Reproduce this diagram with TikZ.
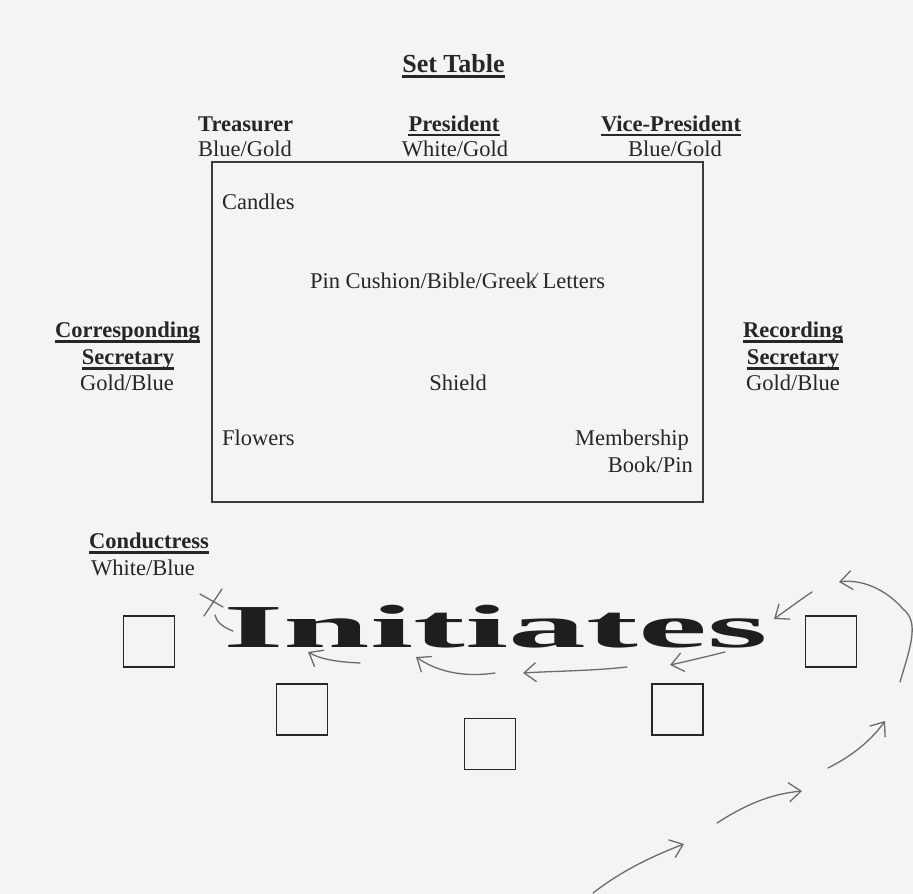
\documentclass[tikz,border=0pt]{standalone}
\usepackage{fontspec}
\setmainfont{Liberation Serif}
\usetikzlibrary{arrows.meta}
\definecolor{ink}{HTML}{262626}
\definecolor{inkdark}{HTML}{1E1E1E}
\definecolor{pencil}{HTML}{6C6C6C}
\definecolor{paper}{HTML}{F4F4F4}
\tikzset{
  lbl/.style={inner sep=0, text=ink, font=\fontsize{22.5}{26}\selectfont},
  ttl/.style={inner sep=0, text=ink, font=\fontsize{22.5}{26}\selectfont\bfseries},
  ttlbig/.style={inner sep=0, text=ink, font=\fontsize{26}{30}\selectfont\bfseries},
  ulst/.style={draw=ink, line width=2.2pt},
  seat/.style={draw=ink, line width=1.8pt, minimum size=51pt, inner sep=0},
  tablebox/.style={draw=ink!90, line width=1.5pt, inner sep=0},
  pencilarrow/.style={draw=pencil, line width=1.3pt, line cap=round,
    -{Straight Barb[length=12pt,width=19pt]}},
  pencilline/.style={draw=pencil, line width=1.3pt, line cap=round},
}
\newcommand{\ulnode}[2][4.5pt]{\draw[ulst] ([yshift=-#1]#2.base west) -- ([yshift=-#1]#2.base east);}
\begin{document}
\begin{tikzpicture}[x=1pt,y=-1pt]
\fill[paper] (0,0) rectangle (913,894);
\useasboundingbox (0,0) rectangle (913,894);

% title
\node[ttlbig, anchor=base] (settable) at (453.5,72) {Set Table};
\ulnode{settable}

% officers at top
\node[ttl, anchor=base west] (treas) at (198,131) {Treasurer};
\node[lbl, anchor=base west] (treasc) at (198,156) {Blue/Gold};
\node[ttl, anchor=base] (pres) at (454,131) {President};
\ulnode[4pt]{pres}
\node[lbl, anchor=base] (presc) at (455,156) {White/Gold};
\node[ttl, anchor=base] (vp) at (671,131) {Vice-President};
\ulnode[4pt]{vp}
\node[lbl, anchor=base] (vpc) at (675,156) {Blue/Gold};

% table
\node[tablebox, minimum width=491pt, minimum height=340pt] (table) at (457.5,332) {};
\node[lbl, anchor=base west] (candles) at (222,209) {Candles};
\node[lbl, anchor=base] (pin) at (457.5,288) {Pin Cushion/Bible/Greek Letters};
\node[lbl, anchor=base] (shield) at (458,390) {Shield};
\node[lbl, anchor=base west] (flowers) at (222,445) {Flowers};
\node[lbl, anchor=base east] (member) at (689,445) {Membership};
\node[lbl, anchor=base east] (book) at (693,472) {Book/Pin};

% side officers
\node[ttl, anchor=base] (cs1) at (127.5,337) {Corresponding};
\ulnode{cs1}
\node[ttl, anchor=base] (cs2) at (128,364) {Secretary};
\ulnode{cs2}
\node[lbl, anchor=base] (cs3) at (127,390) {Gold/Blue};

\node[ttl, anchor=base] (rs1) at (793,337) {Recording};
\ulnode{rs1}
\node[ttl, anchor=base] (rs2) at (793,364) {Secretary};
\ulnode{rs2}
\node[lbl, anchor=base] (rs3) at (793,390) {Gold/Blue};

\node[ttl, anchor=base west] (cond) at (89,548) {Conductress};
\ulnode{cond}
\node[lbl, anchor=base west] (condc) at (91,575) {White/Blue};

% Initiates
\node[inner sep=0, anchor=base west, text=inkdark] (init) at (223,647)
  {\scalebox{2.55}[1]{\fontsize{61}{64}\selectfont\bfseries Initiates}};

% seats
\node[seat] (s1) at (149,641.5) {};
\node[seat] (s2) at (302,709.5) {};
\node[seat] (s3) at (490,744) {};
\node[seat] (s4) at (677.5,709.5) {};
\node[seat] (s5) at (831,641.5) {};

% pencil path coordinates
\coordinate (a1t) at (593,893);  \coordinate (a1h) at (684,844);
\coordinate (a2t) at (717,823);  \coordinate (a2h) at (802,791);
\coordinate (a3t) at (828,768);  \coordinate (a3h) at (885,721);
\coordinate (a4t) at (900,682);  \coordinate (a4m) at (903,609); \coordinate (a4h) at (839,582);
\coordinate (a5t) at (812,592);  \coordinate (a5h) at (774,619);
\coordinate (a6t) at (725,652);  \coordinate (a6h) at (670,665);
\coordinate (a7t) at (627,667);  \coordinate (a7h) at (523,673);
\coordinate (a8t) at (495,673);  \coordinate (a8h) at (416,657);
\coordinate (a9t) at (360,663);  \coordinate (a9h) at (308,652);
\coordinate (a10t) at (233,631); \coordinate (a10h) at (215,615);
\coordinate (xa) at (200,594); \coordinate (xb) at (223,607);
\coordinate (xc) at (222,589); \coordinate (xd) at (204,616);
\coordinate (ka) at (529,288); \coordinate (kb) at (538,273);

\draw[pencilarrow] (a1t) .. controls (620,872) and (650,857) .. (a1h);
\draw[pencilarrow] (a2t) .. controls (745,805) and (770,794) .. (a2h);
\draw[pencilarrow] (a3t) .. controls (850,757) and (870,742) .. (a3h);
\draw[pencilarrow] (a4t) .. controls (910,648) and (920,622) .. (a4m)
   .. controls (885,588) and (860,579) .. (a4h);
\draw[pencilarrow] (a5t) .. controls (800,600) and (788,609) .. (a5h);
\draw[pencilarrow] (a6t) .. controls (705,657) and (688,661) .. (a6h);
\draw[pencilarrow] (a7t) .. controls (590,671) and (555,671) .. (a7h);
\draw[pencilarrow] (a8t) .. controls (460,678) and (435,670) .. (a8h);
\draw[pencilarrow] (a9t) .. controls (340,662) and (322,660) .. (a9h);
\draw[pencilline] (a10t) .. controls (222,627) and (216,621) .. (a10h);
\draw[pencilline] (xa) -- (xb);
\draw[pencilline] (xc) -- (xd);
\draw[pencilline, line width=1pt] (ka) -- (kb);
\end{tikzpicture}
\end{document}
